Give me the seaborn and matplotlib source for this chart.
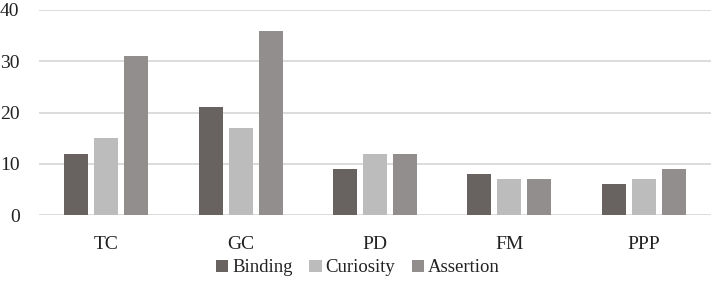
import matplotlib
matplotlib.use("Agg")
import matplotlib.pyplot as plt
import seaborn as sns
import pandas as pd

categories = ["TC", "GC", "PD", "FM", "PPP"]
series = ["Binding", "Curiosity", "Assertion"]
binding = [12, 21, 9, 8, 6]
curiosity = [15, 17, 12, 7, 7]
assertion = [31, 36, 12, 7, 9]
colors = ["#686361", "#bcbcbc", "#918e8d"]

rows = []
for name, vals in zip(series, [binding, curiosity, assertion]):
    for c, v in zip(categories, vals):
        rows.append({"cat": c, "series": name, "value": v})
df = pd.DataFrame(rows)

sns.set_style("white")
plt.rcParams["font.family"] = ["Liberation Serif", "DejaVu Serif"]

fig = plt.figure(figsize=(7.13, 2.96), dpi=100)
ax = fig.add_axes([39/713, 1-215/296, 672/713, 205/296])
sns.barplot(data=df, x="cat", y="value", hue="series", order=categories,
            hue_order=series, palette=colors, width=0.67, gap=0.2,
            saturation=1, linewidth=0, ax=ax, legend=True)
ax.set_ylim(0, 40)
ax.set_yticks([0, 10, 20, 30, 40])
ax.set_xlim(-0.5, 4.5)
ax.yaxis.grid(True, color="#d9d9d9", linewidth=1.3)
ax.set_axisbelow(True)
for s in ax.spines.values():
    s.set_visible(False)
ax.set_xlabel("")
ax.set_ylabel("")
ax.tick_params(axis="both", length=0, labelsize=14, colors="#222222")
ax.tick_params(axis="x", pad=15)
ax.tick_params(axis="y", pad=14)
ax.legend(loc="center", bbox_to_anchor=(358/713, 1-268/296),
          bbox_transform=fig.transFigure, ncol=3, frameon=False,
          fontsize=13.5, handlelength=0.65, handleheight=0.65,
          handletextpad=0.2, columnspacing=0.9, labelcolor="#222222")
fig.savefig("out.png", dpi=100)
